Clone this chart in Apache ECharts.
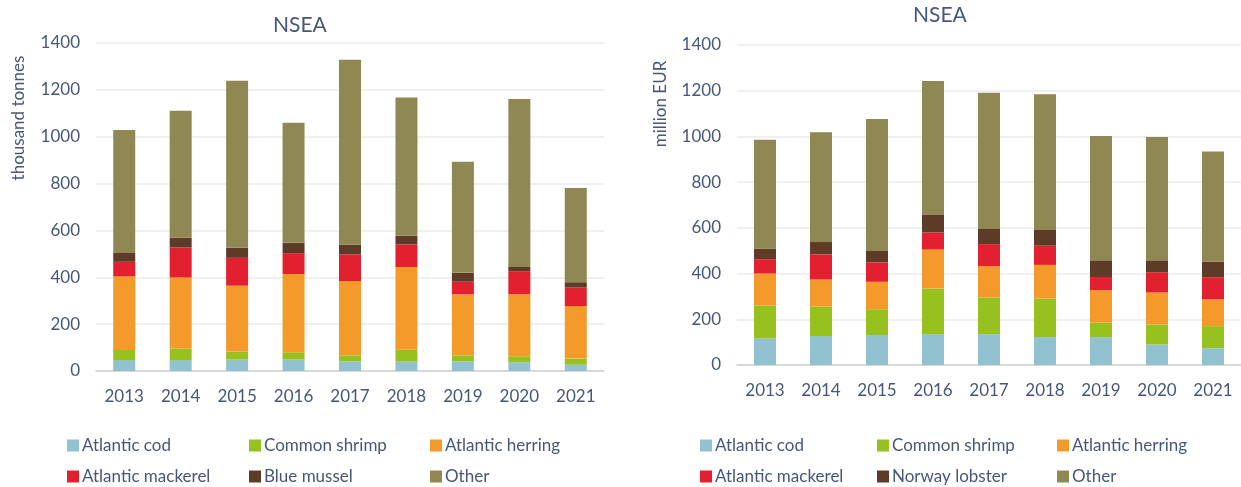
<!DOCTYPE html>
<html>
<head>
<meta charset="utf-8">
<script src="https://cdn.jsdelivr.net/npm/echarts@6/dist/echarts.min.js"></script>
<style>
html,body{margin:0;padding:0;background:#fff;}
#c{width:1241px;height:487px;}
</style>
</head>
<body>
<div id="c"></div>
<script>
// ---- data ----
const years = ['2013','2014','2015','2016','2017','2018','2019','2020','2021'];
const yTicks = [0, 200, 400, 600, 800, 1000, 1200, 1400];

// Left chart: landings weight (thousand tonnes)
const volSeriesNames = ['Atlantic cod','Common shrimp','Atlantic herring','Atlantic mackerel','Blue mussel','Other'];
const volCod      = [47, 47, 49, 49, 41, 40, 41, 37, 27];
const volShrimp   = [43, 49, 34, 31, 26, 51, 26, 26, 26];
const volHerring  = [314, 303, 281, 334, 317, 353, 260, 264, 224];
const volMackerel = [62, 128, 119, 89, 113, 96, 54, 99, 79];
const volMussel   = [38, 42, 43, 44, 42, 37, 38, 18, 23];
const volOther    = [525, 542, 713, 513, 790, 590, 474, 717, 402];

// Right chart: landings value (million EUR)
const valSeriesNames = ['Atlantic cod','Common shrimp','Atlantic herring','Atlantic mackerel','Norway lobster','Other'];
const valCod      = [116, 127, 131, 135, 135, 122, 122, 90, 73];
const valShrimp   = [144, 128, 113, 200, 160, 169, 63, 87, 97];
const valHerring  = [140, 119, 120, 170, 137, 147, 142, 140, 117];
const valMackerel = [63, 110, 85, 75, 97, 84, 58, 89, 97];
const valLobster  = [46, 54, 50, 79, 66, 69, 73, 52, 68];
const valOther    = [477, 480, 577, 584, 596, 593, 544, 540, 482];

const colors = {
  'Atlantic cod': '#92c1d0',
  'Common shrimp': '#96c11f',
  'Atlantic herring': '#f39a2a',
  'Atlantic mackerel': '#e3202f',
  'Blue mussel': '#5e3b27',
  'Norway lobster': '#5e3b27',
  'Other': '#8f8853'
};

const volData = [volCod, volShrimp, volHerring, volMackerel, volMussel, volOther];
const valData = [valCod, valShrimp, valHerring, valMackerel, valLobster, valOther];

const txt = '#46577a';
const FONT = 'Lato';

function xAxis(gi){
  return {
    type:'category', gridIndex:gi, data:years,
    axisTick:{show:false},
    axisLine:{lineStyle:{color:'#cfcfcf', width:1.5}},
    axisLabel:{color:txt, fontFamily:FONT, fontSize:17, margin:17}
  };
}
function yAxis(gi){
  return {
    type:'value', gridIndex:gi, min:yTicks[0], max:yTicks[yTicks.length-1], interval:200,
    axisLine:{show:false}, axisTick:{show:false},
    splitLine:{lineStyle:{color:'#ebebeb', width:1.5}},
    axisLabel:{color:txt, fontFamily:FONT, fontSize:17, margin:16, formatter:(v)=>String(v)}
  };
}

const series = [];
volSeriesNames.forEach((n,i)=>{
  series.push({name:n, type:'bar', stack:'vol', xAxisIndex:0, yAxisIndex:0,
    barWidth:22, data:volData[i], itemStyle:{color:colors[n]}});
});
valSeriesNames.forEach((n,i)=>{
  series.push({name:n, type:'bar', stack:'val', xAxisIndex:1, yAxisIndex:1,
    barWidth:22, data:valData[i], itemStyle:{color:colors[n]}});
});

function legendItem(name, left, top){
  return {
    data:[name], left:left, top:top, padding:0,
    itemWidth:12, itemHeight:12, icon:'rect', selectedMode:false,
    textStyle:{color:txt, fontFamily:FONT, fontSize:17, padding:[0,0,0,-2]}
  };
}
const legL = [67, 249, 430];
const legR = [700, 877, 1057];
const rowTop = [437, 468];
const legends = [];
volSeriesNames.forEach((n,i)=>{
  legends.push(legendItem(n, legL[i%3], rowTop[Math.floor(i/3)]));
});
valSeriesNames.forEach((n,i)=>{
  legends.push(legendItem(n, legR[i%3], rowTop[Math.floor(i/3)]));
});

const option = {
  animation:false,
  color: Object.values(colors),
  grid:[
    {left:96, top:43, width:508, height:328},
    {left:737, top:45, width:509, height:320}
  ],
  xAxis:[xAxis(0), xAxis(1)],
  yAxis:[yAxis(0), yAxis(1)],
  legend: legends,
  series: series,
  graphic:[
    {type:'text', left:273, top:15, style:{text:'NSEA', fill:txt, font:'21px ' + FONT}},
    {type:'text', left:913, top:5, style:{text:'NSEA', fill:txt, font:'21px ' + FONT}},
    {type:'text', x:19, y:118, rotation:Math.PI/2,
      style:{text:'thousand tonnes', fill:txt, font:'17px ' + FONT, align:'center', verticalAlign:'middle'}},
    {type:'text', x:661, y:104, rotation:Math.PI/2,
      style:{text:'million EUR', fill:txt, font:'17px ' + FONT, align:'center', verticalAlign:'middle'}}
  ]
};

const chart = echarts.init(document.getElementById('c'), null, {renderer:'canvas'});
chart.setOption(option);
</script>
</body>
</html>
